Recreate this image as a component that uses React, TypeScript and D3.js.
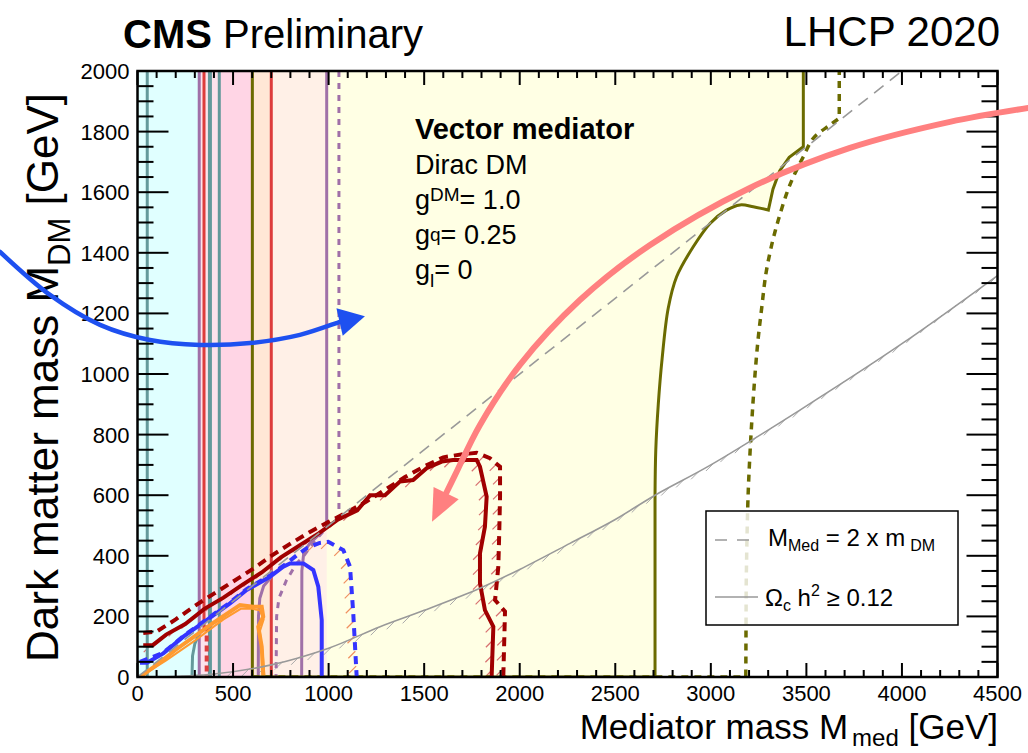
import React from 'react';
import * as d3 from 'd3';

type P = [number, number];

// ---------- axis ticks ----------
const xMajorTicks = d3.range(0, 4501, 500);
const xMinorTicks = d3.range(0, 4501, 100);
const yMajorTicks = d3.range(0, 2001, 200);
const yMinorTicks = d3.range(0, 2001, 50);

// ---------- excluded vertical bands [from, to] GeV ----------
const bandCyan: P = [0, 323];
const bandPinkLight: P = [323, 428];
const bandPink: P = [428, 601];
const bandOrange: P = [601, 700];
const bandPeach: P = [700, 990];

// ---------- vertical limit lines (GeV) ----------
const tealLines = [51, 379, 428];
const purpleLine = 323;
const redLines = [700];
const oliveLine = 601;

// ---------- contours (M_med, M_DM) in GeV ----------
const redUpper: P[] = [[348, 2000], [348, 160]];
const redLowerDashed: P[] = [[362, 170], [362, 0]];
const tealLow: P[] = [[285, 0], [288, 70], [300, 110], [320, 140]];

const purpleObs: P[] = [[990, 2000], [990, 495], [950, 470], [900, 440], [870, 410], [860, 350], [859, 0]];
const purpleExp: P[] = [[1054, 2000], [1054, 530], [1000, 500], [930, 450], [870, 400], [833, 375], [780, 320], [740, 260], [728, 200], [725, 0]];
const purpleInner: P[] = [[632, 0], [633, 200], [640, 260], [660, 300], [700, 330]];

const darkRedObs: P[] = [[30, 105], [80, 105], [150, 140], [250, 175], [350, 225], [450, 262], [550, 305], [650, 345], [750, 395], [850, 435], [950, 475], [1050, 520], [1150, 550], [1217, 600], [1295, 600], [1373, 645], [1442, 650], [1513, 689], [1592, 711], [1651, 716], [1775, 716], [1792, 694], [1827, 595], [1818, 496], [1792, 408], [1792, 309], [1818, 221], [1862, 166], [1853, 0]];
const darkRedExp: P[] = [[30, 145], [100, 150], [200, 190], [300, 235], [400, 275], [500, 315], [600, 355], [700, 400], [800, 440], [900, 478], [1000, 512], [1100, 545], [1200, 580], [1300, 620], [1400, 660], [1500, 695], [1600, 725], [1700, 735], [1775, 740], [1844, 722], [1897, 694], [1897, 595], [1893, 480], [1888, 364], [1871, 254], [1923, 216], [1914, 0]];

const blueObs: P[] = [[13, 47], [50, 47], [135, 78], [240, 133], [362, 188], [484, 243], [571, 287], [693, 331], [763, 364], [798, 375], [868, 375], [920, 353], [946, 298], [964, 188], [964, 0]];
const blueExp: P[] = [[13, 50], [135, 80], [240, 135], [362, 190], [484, 246], [571, 290], [693, 335], [780, 375], [840, 405], [885, 425], [950, 442], [998, 446], [1077, 419], [1112, 364], [1129, 210], [1147, 0]];

const orangeObs: P[] = [[13, 0], [100, 40], [200, 90], [300, 135], [400, 180], [536, 237], [606, 232], [650, 232], [658, 199], [632, 166], [650, 100], [658, 0]];
const orangeExp: P[] = [[13, 0], [150, 55], [300, 120], [450, 190], [540, 225], [600, 225], [640, 220], [660, 190], [640, 150], [655, 80], [665, 0]];

const oliveObsLow: P[] = [[601, 0], [2708, 0], [2708, 600]];
const oliveObsUp: P[] = [[2708, 600], [2712, 750], [2725, 900], [2745, 1050], [2777, 1217], [2821, 1321], [2908, 1420], [2996, 1497], [3080, 1540], [3153, 1558], [3222, 1552], [3301, 1541]];
const oliveObsTop: P[] = [[3301, 1541], [3325, 1610], [3360, 1670], [3410, 1715], [3484, 1750], [3484, 2000]];
const oliveExpLow: P[] = [[601, 0], [3183, 0], [3185, 300]];
const oliveExpUp: P[] = [[3185, 300], [3195, 600], [3220, 900], [3245, 1100], [3266, 1217], [3288, 1330], [3320, 1430], [3353, 1508], [3397, 1596], [3432, 1651], [3484, 1717], [3536, 1778], [3624, 1822], [3672, 1844]];
const oliveExpTop: P[] = [[3672, 1844], [3672, 2000]];

const relic: P[] = [[100, 0], [400, 10], [700, 40], [1000, 95], [1269, 166], [1500, 220], [1792, 293], [2000, 355], [2263, 441], [2500, 520], [2708, 600], [3000, 700], [3466, 881], [4000, 1100], [4500, 1325]];
const diagonal: P[] = [[0, 0], [4000, 2000]];

// ---------- annotation arrows (GeV coordinates, may extend outside frame) ----------
const blueArrow: P[] = [[-719, 1403], [-458, 1261], [-196, 1162], [65, 1112], [327, 1096], [589, 1102], [850, 1129], [1060, 1172], [1190, 1191]];
const redArrow: P[] = [[4660, 1878], [4251, 1832], [3728, 1746], [3204, 1614], [2682, 1426], [2315, 1244], [2001, 1030], [1792, 832], [1662, 667], [1541, 512]];

// ---------- texts ----------
const infoLines = ['Dirac DM'];
const couplings = [
  { sub: 'DM', val: '= 1.0', shift: -8 },
  { sub: 'q', val: '= 0.25', shift: -3 },
  { sub: 'l', val: '= 0', shift: 8 },
];

const FONT = '"Liberation Sans", Arial, Helvetica, sans-serif';
const C = {
  cyan: '#e0ffff', pinkL: '#fde2ec', pink: '#ffd5e5', orange: '#ffe7d6', peach: '#fff0e7', yellow: '#ffffe4',
  teal: '#64999b', purple: '#a070a8', red: '#dd3c3c', olive: '#6b6b00', darkRed: '#a00000',
  blue: '#3434ff', orangeL: '#ff9a30', grey: '#999999', arrowBlue: '#1e50f0', arrowRed: '#ff8080',
};

export default function App() {
  const x = d3.scaleLinear().domain([0, 4500]).range([137.5, 997.5]);
  const y = d3.scaleLinear().domain([0, 2000]).range([677, 71]);
  const line = d3.line<P>().x((d) => x(d[0])).y((d) => y(d[1]));
  const smooth = d3.line<P>().x((d) => x(d[0])).y((d) => y(d[1])).curve(d3.curveCatmullRom.alpha(0.5));
  const L = x(0), R = x(4500), T = y(2000), B = y(0);

  const hatch = (pts: P[], spacing: number, hx: number, hy: number) => {
    const Q = pts.map((p) => [x(p[0]), y(p[1])]);
    const segs: number[][] = [];
    let acc = spacing / 2;
    for (let i = 1; i < Q.length; i++) {
      const [x0, y0] = Q[i - 1];
      const [x1, y1] = Q[i];
      const len = Math.hypot(x1 - x0, y1 - y0);
      let t = acc;
      while (t < len) {
        const px = x0 + ((x1 - x0) * t) / len;
        const py = y0 + ((y1 - y0) * t) / len;
        segs.push([px, py, px + hx, py + hy]);
        t += spacing;
      }
      acc = t - len;
    }
    return segs;
  };

  const band = (b: P, fill: string) => (
    <rect x={x(b[0])} y={T} width={x(b[1]) - x(b[0])} height={B - T} fill={fill} />
  );

  const arrow = (pts: P[], color: string, width: number, headL: number, headW: number) => {
    const Q = pts.map((p) => [x(p[0]), y(p[1])] as [number, number]);
    const tip = Q[Q.length - 1];
    const prev = Q[Q.length - 2];
    const dx = tip[0] - prev[0], dy = tip[1] - prev[1];
    const n = Math.hypot(dx, dy);
    const ux = dx / n, uy = dy / n;
    const bx = tip[0] - ux * headL, by = tip[1] - uy * headL;
    const shaft = [...Q.slice(0, -1), [bx + ux * 2, by + uy * 2] as [number, number]];
    const sl = d3.line().curve(d3.curveCatmullRom.alpha(0.5));
    const head = `M${tip[0]},${tip[1]}L${bx - uy * headW / 2},${by + ux * headW / 2}L${bx + uy * headW / 2},${by - ux * headW / 2}Z`;
    return (
      <g>
        <path d={sl(shaft) || ''} fill="none" stroke={color} strokeWidth={width} strokeLinecap="round" />
        <path d={head} fill={color} />
      </g>
    );
  };

  const oliveObsPath = (line(oliveObsLow) || '') + (smooth(oliveObsUp) || '').replace(/^M/, 'L') + (line(oliveObsTop) || '').replace(/^M/, 'L');
  const oliveExpPath = (line(oliveExpLow) || '') + (smooth(oliveExpUp) || '').replace(/^M/, 'L') + (line(oliveExpTop) || '').replace(/^M/, 'L');
  const yellowTop = line([[3484, 2000], [601, 2000]] as P[]) || '';

  const hatchLines = (segs: number[][], color: string, w = 1) =>
    segs.map((s, i) => <line key={i} x1={s[0]} y1={s[1]} x2={s[2]} y2={s[3]} stroke={color} strokeWidth={w} />);

  return (
    <svg width={1028} height={753} style={{ position: 'absolute', left: 0, top: 0, background: '#fff' }} fontFamily={FONT}>
      <defs>
        <clipPath id="plot"><rect x={L} y={T} width={R - L} height={B - T} /></clipPath>
      </defs>
      <rect x={0} y={0} width={1028} height={753} fill="#fff" />
      <g clipPath="url(#plot)">
        <path d={oliveObsPath + yellowTop.replace(/^M/, 'L') + 'Z'} fill={C.yellow} />
        {band(bandCyan, C.cyan)}
        {band(bandPinkLight, C.pinkL)}
        {band(bandPink, C.pink)}
        {band(bandOrange, C.orange)}
        {band(bandPeach, C.peach)}

        {/* hatches */}
        {hatchLines(hatch(relic, 17, -8, 8), '#aaaaaa', 1)}
        {hatchLines(hatch(darkRedObs, 15, -7, 7), '#d87070', 1.2)}
        {hatchLines(hatch(darkRedExp.slice(17), 15, -7, 7), '#d87070', 1.2)}
        {hatchLines(hatch(blueExp.slice(9), 15, -7, 7), '#f09060', 1.2)}

        {/* vertical lines */}
        {tealLines.map((v, i) => (
          <line key={'t' + i} x1={x(v)} x2={x(v)} y1={T} y2={B} stroke={C.teal} strokeWidth={i === 1 ? 4 : 3} />
        ))}
        <line x1={x(purpleLine)} x2={x(purpleLine)} y1={T} y2={B} stroke={C.purple} strokeWidth={3} />
        <path d={line(redUpper) || ''} stroke={C.red} strokeWidth={3} fill="none" />
        <path d={line(redLowerDashed) || ''} stroke={C.red} strokeWidth={4} fill="none" strokeDasharray="6,4" />
        {redLines.map((v, i) => (
          <line key={'r' + i} x1={x(v)} x2={x(v)} y1={T} y2={B} stroke={C.red} strokeWidth={3} />
        ))}
        <path d={line(tealLow) || ''} stroke={C.teal} strokeWidth={3} fill="none" />
        <line x1={x(oliveLine)} x2={x(oliveLine)} y1={T} y2={B} stroke={C.olive} strokeWidth={3} />

        <path d={line(purpleObs) || ''} stroke={C.purple} strokeWidth={3} fill="none" />
        <path d={line(purpleExp) || ''} stroke={C.purple} strokeWidth={3} fill="none" strokeDasharray="6,6" />
        <path d={line(purpleInner) || ''} stroke={C.purple} strokeWidth={3} fill="none" />

        <path d={line(orangeExp) || ''} stroke={C.orangeL} strokeWidth={2} fill="none" />
        <path d={line(orangeObs) || ''} stroke={C.orangeL} strokeWidth={4} fill="none" />

        <path d={oliveObsPath} stroke={C.olive} strokeWidth={3} fill="none" />
        <path d={oliveExpPath} stroke={C.olive} strokeWidth={3.5} fill="none" strokeDasharray="7,6" />

        <path d={line(blueExp) || ''} stroke={C.blue} strokeWidth={4} fill="none" strokeDasharray="8,6" />
        <path d={line(blueObs) || ''} stroke={C.blue} strokeWidth={4} fill="none" />

        <path d={line(darkRedExp) || ''} stroke={C.darkRed} strokeWidth={4} fill="none" strokeDasharray="9,6" />
        <path d={line(darkRedObs) || ''} stroke={C.darkRed} strokeWidth={4} fill="none" />

        <path d={line(diagonal) || ''} stroke={C.grey} strokeWidth={1.6} fill="none" strokeDasharray="12,8" />
        <path d={smooth(relic) || ''} stroke={C.grey} strokeWidth={1.6} fill="none" />
      </g>

      {/* frame and ticks */}
      <rect x={L} y={T} width={R - L} height={B - T} fill="none" stroke="#000" strokeWidth={2.5} />
      {xMinorTicks.map((v) => {
        const len = xMajorTicks.includes(v) ? 14 : 7;
        return (
          <g key={'xm' + v}>
            <line x1={x(v)} x2={x(v)} y1={B} y2={B - len} stroke="#000" strokeWidth={2} />
            <line x1={x(v)} x2={x(v)} y1={T} y2={T + len} stroke="#000" strokeWidth={2} />
          </g>
        );
      })}
      {yMinorTicks.map((v) => {
        const len = yMajorTicks.includes(v) ? 31 : 16;
        return (
          <g key={'ym' + v}>
            <line x1={L} x2={L + len} y1={y(v)} y2={y(v)} stroke="#000" strokeWidth={2} />
            <line x1={R} x2={R - len} y1={y(v)} y2={y(v)} stroke="#000" strokeWidth={2} />
          </g>
        );
      })}
      {xMajorTicks.map((v) => (
        <text key={'xl' + v} x={x(v)} y={B + 24} fontSize={22} textAnchor="middle">{v}</text>
      ))}
      {yMajorTicks.map((v) => (
        <text key={'yl' + v} x={L - 8} y={y(v) + 8} fontSize={22} textAnchor="end">{v}</text>
      ))}

      {/* axis titles */}
      <text x={998} y={739} fontSize={35} textAnchor="end">
        Mediator mass M<tspan fontSize={24} dy={7} dx={4}>med</tspan><tspan dy={-7}> [GeV]</tspan>
      </text>
      <text transform="translate(58,662) rotate(-90)" fontSize={44}>
        Dark matter mass M<tspan fontSize={31} dy={12}>DM</tspan><tspan dy={-12}> [GeV]</tspan>
      </text>

      {/* header */}
      <text x={123} y={48} fontSize={40}><tspan fontWeight="bold">CMS</tspan> Preliminary</text>
      <text x={1000} y={46} fontSize={42} textAnchor="end">LHCP 2020</text>

      {/* info block */}
      <text x={415} y={139} fontSize={29} fontWeight="bold">Vector mediator</text>
      {infoLines.map((t, i) => (
        <text key={t} x={415} y={174 + i * 35} fontSize={27}>{t}</text>
      ))}
      {couplings.map((c, i) => (
        <text key={c.sub} x={415} y={209 + i * 35} fontSize={27}>
          g<tspan fontSize={19} dy={c.shift}>{c.sub}</tspan><tspan dy={-c.shift}>{c.val}</tspan>
        </text>
      ))}

      {/* legend */}
      <rect x={706} y={511} width={252} height={114} fill="#fff" fillOpacity={0.82} stroke="#000" strokeWidth={1.5} />
      <line x1={715} x2={752} y1={540} y2={540} stroke={C.grey} strokeWidth={1.6} strokeDasharray="12,10" />
      <text x={768} y={546} fontSize={24}>
        M<tspan fontSize={16} dy={5}>Med</tspan><tspan dy={-5}> = 2 x m</tspan><tspan fontSize={16} dy={5} dx={5}>DM</tspan>
      </text>
      <line x1={715} x2={758} y1={597} y2={597} stroke={C.grey} strokeWidth={1.6} />
      <text x={765} y={606} fontSize={24}>
        Ω<tspan fontSize={16} dy={5}>c</tspan><tspan dy={-5}> h</tspan><tspan fontSize={16} dy={-10}>2</tspan><tspan dy={10}> ≥ 0.12</tspan>
      </text>

      {/* arrows */}
      {arrow(blueArrow, C.arrowBlue, 4.5, 26, 28)}
      {arrow(redArrow, C.arrowRed, 6, 32, 28)}
    </svg>
  );
}
